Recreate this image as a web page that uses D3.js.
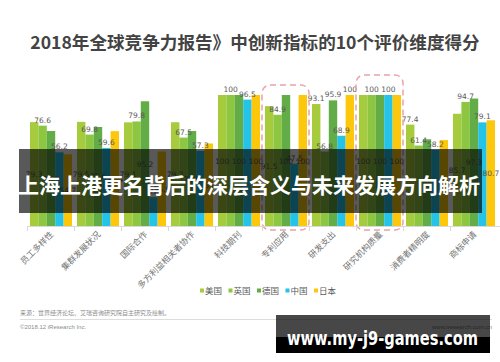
<!DOCTYPE html>
<html>
<head>
<meta charset="utf-8">
<script src="https://cdn.jsdelivr.net/npm/d3@7"></script>
<style>
  body { margin: 0; background: #fff; }
  svg { display: block; font-family: "Noto Sans CJK SC", "Noto Sans", sans-serif; }
</style>
</head>
<body>
<svg width="500" height="362"></svg>
<script>
// Data
const categories = ["员工多样性", "集群发展状况", "国际合作", "多方利益相关者协作", "科技期刊",
  "专利应用", "研发支出", "研究机构质量", "消费者精明度", "商标申请"];
const seriesNames = ["美国", "英国", "德国", "中国", "日本"];
const usValues = [79.3, 79.5, 79.1, 79.2, 100, 91.5, 93.1, 100, 77.4, 85.7];
const ukValues = [76.6, 69.8, 79.8, 67.5, 100, 84.9, 56.8, 100, 61.4, 94.7];
const deValues = [72.5, 75.6, 95.2, 72.5, 100, 100, 95.9, 100, 66.2, 97.3];
const cnValues = [56.2, 59.6, 22.0, 57.3, 96.5, 47.5, 68.9, 100, 58.2, 79.1];
const jpValues = [54.7, 72.4, 56.9, 63.0, 100, 100, 100, 100, 65.6, 80.7];
const highlighted = ["专利应用", "研究机构质量"];
// groups whose US / DE / JP labels sit in the middle of the bar
const midLabelGroups = ["员工多样性", "集群发展状况", "国际合作", "多方利益相关者协作",
  "科技期刊", "专利应用", "研究机构质量", "商标申请"];
// labels the original leaves out (overlapping)
const hiddenLabels = ["消费者精明度|德国", "消费者精明度|日本"];

const title = "2018年全球竞争力报告》中创新指标的10个评价维度得分";
const source = "来源：世界经济论坛、艾瑞咨询研究院自主研究及绘制。";
const bannerText = "上海上港更名背后的深层含义与未来发展方向解析";
const watermark = "www.my-j9-games.com";

const colors = ["#a6cb3c", "#8dc641", "#62ad47", "#25c3e8", "#fdc80b"];
const allValues = [usValues, ukValues, deValues, cnValues, jpValues];

const svg = d3.select("svg");

// Title
svg.append("text")
  .attr("x", 255)
  .attr("y", 49)
  .attr("text-anchor", "middle")
  .style("font-size", "17.6px")
  .style("font-weight", "bold")
  .style("fill", "#434343")
  .text(title);

// Scales
const x0 = d3.scaleBand()
  .domain(categories)
  .range([27.5, 497.5])
  .paddingInner(0.106)
  .paddingOuter(0.053);

const x1 = d3.scaleBand()
  .domain(seriesNames)
  .range([0, x0.bandwidth()]);

const y = d3.scaleLinear().domain([0, 100]).range([226, 95]);

const color = d3.scaleOrdinal().domain(seriesNames).range(colors);

// Flatten the table for drawing
const rows = [];
categories.forEach((cat, i) => {
  seriesNames.forEach((s, j) => {
    rows.push({ cat: cat, series: s, idx: j, value: allValues[j][i] });
  });
});

// Bars
svg.append("g")
  .selectAll("rect")
  .data(rows)
  .enter()
  .append("rect")
  .attr("x", (d) => x0(d.cat) + x1(d.series))
  .attr("y", (d) => y(d.value))
  .attr("width", x1.bandwidth())
  .attr("height", (d) => y(0) - y(d.value))
  .attr("fill", (d) => color(d.series));

// Value labels
svg.append("g")
  .selectAll("text")
  .data(rows.filter((d) => !hiddenLabels.includes(d.cat + "|" + d.series)))
  .enter()
  .append("text")
  .attr("x", (d) => x0(d.cat) + x1(d.series) + x1.bandwidth() / 2)
  .attr("y", (d) => {
    const mid = midLabelGroups.includes(d.cat) && (d.idx === 0 || d.idx === 2 || d.idx === 4);
    return mid ? (y(d.value) + y(0)) / 2 + 3 : y(d.value) - 3;
  })
  .attr("text-anchor", "middle")
  .style("font-family", "'DejaVu Sans', sans-serif")
  .style("font-size", "7.5px")
  .style("fill", "#595959")
  .text((d) => d.value);

// Dashed boxes around highlighted groups
svg.append("g")
  .selectAll("rect")
  .data(highlighted)
  .enter()
  .append("rect")
  .attr("x", (d) => x0(d) - 3)
  .attr("y", (d, i) => y(100) - (i === 0 ? 10 : 20))
  .attr("width", x0.bandwidth() + 5)
  .attr("height", (d, i) => y(0) + 4 - y(100) + (i === 0 ? 10 : 20))
  .attr("rx", 8)
  .attr("fill", "none")
  .attr("stroke", "#e9a3a6")
  .attr("stroke-width", 1.5)
  .attr("stroke-dasharray", "6,4");

// X axis baseline with ticks between groups
const axis = svg.append("g");
axis.append("line")
  .attr("x1", 27.5)
  .attr("x2", 500)
  .attr("y1", y(0) + 0.5)
  .attr("y2", y(0) + 0.5)
  .attr("stroke", "#d9d9d9");
axis.selectAll(".tick")
  .data(categories)
  .enter()
  .append("line")
  .attr("x1", (d) => x0(d) - x0.step() * x0.paddingInner() / 2)
  .attr("x2", (d) => x0(d) - x0.step() * x0.paddingInner() / 2)
  .attr("y1", y(0))
  .attr("y2", y(0) + 5)
  .attr("stroke", "#d9d9d9");

// Category labels
axis.selectAll(".cat")
  .data(categories)
  .enter()
  .append("text")
  .attr("transform", (d) => `translate(${x0(d) + x0.bandwidth() / 2 + 3},${y(0) + 9})rotate(-45)`)
  .attr("text-anchor", "end")
  .style("font-size", "8.5px")
  .style("fill", "#737373")
  .text((d) => d);

// Legend
const legend = svg.append("g").attr("transform", "translate(200,291)");
const legendItem = legend.selectAll("g")
  .data(seriesNames)
  .enter()
  .append("g")
  .attr("transform", (d, i) => `translate(${i * 28.5},0)`);
legendItem.append("rect")
  .attr("x", 0)
  .attr("y", -2.5)
  .attr("width", 4)
  .attr("height", 4)
  .attr("fill", (d) => color(d));
legendItem.append("text")
  .attr("x", 5)
  .attr("y", 3)
  .style("font-size", "8.5px")
  .style("fill", "#595959")
  .text((d) => d);

// Source and footer
svg.append("text")
  .attr("x", 20)
  .attr("y", 315)
  .style("font-size", "6px")
  .style("fill", "#8c8c8c")
  .text(source);
svg.append("line")
  .attr("x1", 20)
  .attr("x2", 492)
  .attr("y1", 319.5)
  .attr("y2", 319.5)
  .attr("stroke", "#dddddd");
svg.append("text")
  .attr("x", 20)
  .attr("y", 329)
  .style("font-family", "'Liberation Sans', sans-serif")
  .style("font-size", "6px")
  .style("fill", "#8c8c8c")
  .text("©2018.12 iResearch Inc.");
svg.append("text")
  .attr("x", 492)
  .attr("y", 329)
  .attr("text-anchor", "end")
  .style("font-family", "'Liberation Sans', sans-serif")
  .style("font-size", "6px")
  .style("fill", "#8c8c8c")
  .text("www.iresearch.com.cn");

// Dark banner overlay
svg.append("rect")
  .attr("x", 19)
  .attr("y", 149)
  .attr("width", 463)
  .attr("height", 64)
  .attr("fill", "#000")
  .attr("fill-opacity", 0.65);
svg.append("text")
  .attr("x", 249)
  .attr("y", 184)
  .attr("text-anchor", "middle")
  .attr("dominant-baseline", "central")
  .style("font-size", "21px")
  .style("font-weight", "bold")
  .style("fill", "#fff")
  .text(bannerText);

// Watermark box
svg.append("rect")
  .attr("x", 276)
  .attr("y", 315)
  .attr("width", 214)
  .attr("height", 22)
  .attr("fill", "#000")
  .attr("fill-opacity", 0.72);
svg.append("rect")
  .attr("x", 276)
  .attr("y", 337)
  .attr("width", 214)
  .attr("height", 16)
  .attr("fill", "#000");
svg.append("text")
  .attr("x", 287)
  .attr("y", 345)
  .attr("textLength", 191)
  .attr("lengthAdjust", "spacingAndGlyphs")
  .style("font-family", "'DejaVu Sans', sans-serif")
  .style("font-size", "19px")
  .style("font-weight", "bold")
  .style("fill", "#fff")
  .text(watermark);
</script>
</body>
</html>
